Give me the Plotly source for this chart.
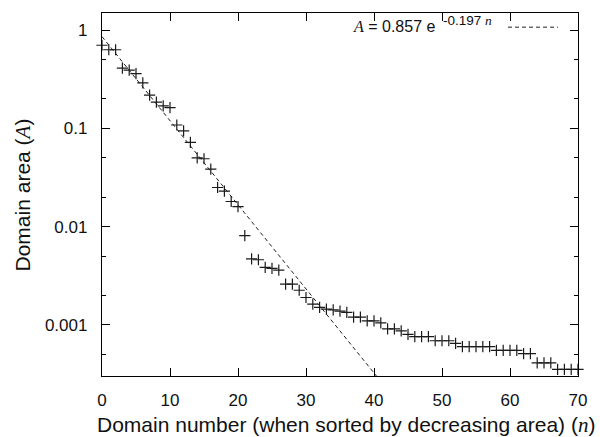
import numpy as np
import plotly.graph_objects as go

# ---- data ----
domain_n = list(range(0, 71))
domain_area = [
    0.70, 0.63, 0.63, 0.41, 0.39, 0.36, 0.29, 0.218, 0.185, 0.169,
    0.162, 0.108, 0.094, 0.072, 0.050, 0.049, 0.0385, 0.025, 0.023, 0.018,
    0.016, 0.0081, 0.0047, 0.0046, 0.00385, 0.00375, 0.0036, 0.0026, 0.0026, 0.00225,
    0.0019, 0.00163, 0.00151, 0.00145, 0.00142, 0.00138, 0.00134, 0.0012, 0.0012, 0.0011,
    0.0011, 0.00105, 0.00091, 0.00091, 0.00087, 0.0008, 0.00076, 0.00076, 0.00076, 0.00069,
    0.00069, 0.00069, 0.00065, 0.0006, 0.0006, 0.0006, 0.0006, 0.0006, 0.00055, 0.00055,
    0.00055, 0.00055, 0.00051, 0.00051, 0.00041, 0.00041, 0.00041, 0.000353, 0.000353, 0.000353,
    0.000353,
]
fit_a = 0.857
fit_b = 0.197
fit_n = [0, 42]
fit_area = [fit_a * np.exp(-fit_b * v) for v in fit_n]

x_ticks = [0, 10, 20, 30, 40, 50, 60, 70]
y_ticks = [1, 0.1, 0.01, 0.001]
y_ticklabels = ["1", "0.1", "0.01", "0.001"]
y_minor = [0.5, 0.2, 0.05, 0.02, 0.005, 0.002, 0.0005]

SANS = "Liberation Sans, Arial, Helvetica, sans-serif"
SERIF = "Liberation Serif"
INK = "#111111"

fig = go.Figure()
fig.add_trace(go.Scatter(
    x=fit_n, y=fit_area, mode="lines",
    line=dict(color="#222222", width=1, dash="4px,3px"),
    showlegend=False, hoverinfo="skip",
))
fig.add_trace(go.Scatter(
    x=domain_n, y=domain_area, mode="markers",
    marker=dict(symbol="cross-thin", size=8,
                line=dict(color="#1a1a1a", width=1.2)),
    cliponaxis=False, showlegend=False,
))

axis_common = dict(
    showline=True, linecolor="black", linewidth=1.3, mirror="ticks",
    ticks="inside", tickcolor="black", tickwidth=1, ticklen=8,
    showgrid=False, zeroline=False,
    tickfont=dict(family=SANS, size=17, color=INK),
)
fig.update_xaxes(range=[0, 70], tickvals=x_ticks, ticklabelstandoff=8, **axis_common)
fig.update_yaxes(type="log", range=[-3.52, 0.173], tickvals=y_ticks,
                 ticktext=y_ticklabels, ticklabelstandoff=10,
                 minor=dict(tickvals=y_minor, ticks="inside", ticklen=4,
                            tickcolor="black", tickwidth=1),
                 **axis_common)

fig.update_layout(
    width=600, height=437,
    margin=dict(l=102, r=22, t=13, b=61),
    paper_bgcolor="white", plot_bgcolor="white",
    font=dict(family=SANS, color=INK),
    annotations=[
        dict(text=f'Domain number (when sorted by decreasing area) (<span style="font-family:{SERIF}"><i>n</i></span>)',
             xref="paper", yref="paper", x=0.513, y=-0.135, xanchor="center", yanchor="middle",
             showarrow=False, font=dict(family=SANS, size=21, color=INK)),
        dict(text=f'Domain area (<span style="font-family:{SERIF}"><i>A</i></span>)',
             xref="paper", yref="paper", x=-0.166, y=0.5, xanchor="center", yanchor="middle",
             textangle=-90, showarrow=False, font=dict(family=SANS, size=21, color=INK)),
        dict(text=f'<span style="font-family:{SERIF}"><i>A</i></span> = 0.857 e',
             xref="paper", yref="paper", x=0.706, y=0.962, xanchor="right", yanchor="middle",
             showarrow=False, font=dict(family=SANS, size=16, color=INK)),
        dict(text=f'-0.197 <span style="font-family:{SERIF}"><i>n</i></span>',
             xref="paper", yref="paper", x=0.712, y=0.979, xanchor="left", yanchor="middle",
             showarrow=False, font=dict(family=SANS, size=13.5, color=INK)),
    ],
    shapes=[
        dict(type="line", xref="paper", yref="paper", x0=0.853, x1=0.958, y0=0.961, y1=0.961,
             line=dict(color="#222222", width=1, dash="4px,3px")),
    ],
)

fig.write_html("out.html")
